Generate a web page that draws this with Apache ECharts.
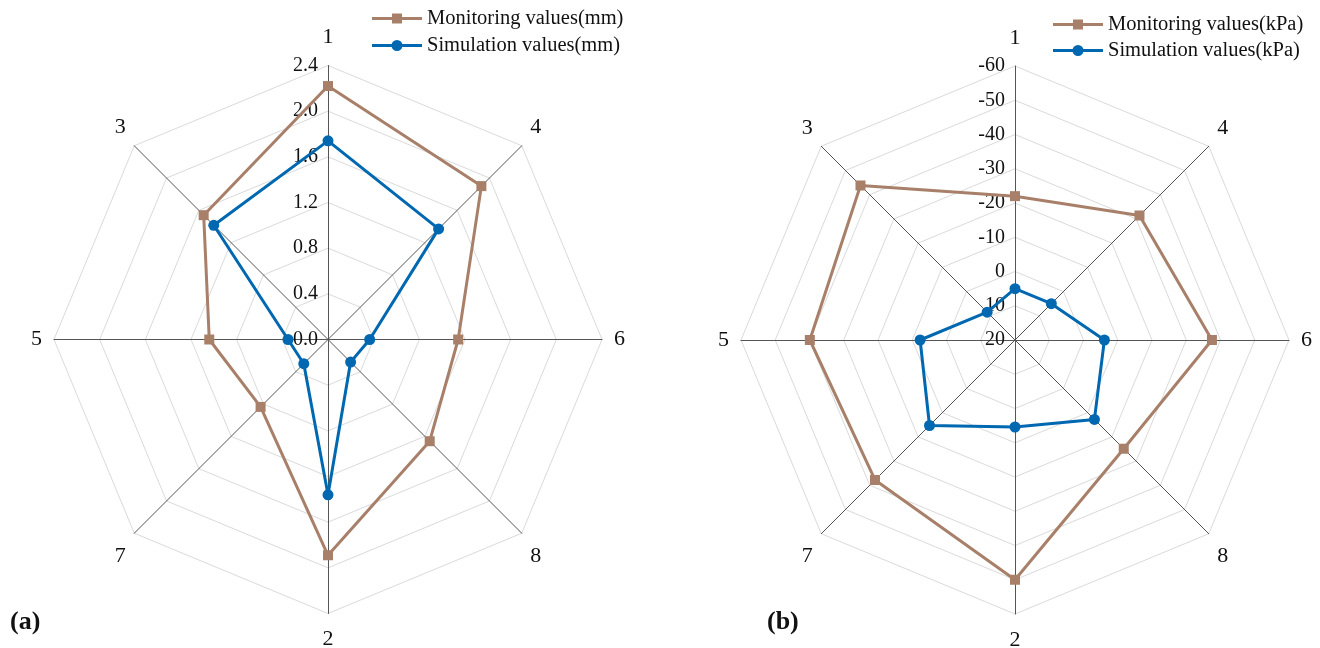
<!DOCTYPE html>
<html>
<head>
<meta charset="utf-8">
<script src="https://cdn.jsdelivr.net/npm/echarts@6/dist/echarts.min.js"></script>
<style>html,body{margin:0;padding:0;background:#fff}#c{width:1320px;height:648px}</style>
</head>
<body>
<div id="c"></div>
<script>
// Indicator order as ECharts lays them out (counterclockwise from top)
const categories = ['1', '3', '5', '7', '2', '8', '6', '4'];

// (a) displacement, mm
const monitoringMM = [2.22, 1.54, 1.04, 0.835, 1.89, 1.26, 1.14, 1.90];
const simulationMM = [1.74, 1.415, 0.35, 0.30, 1.36, 0.28, 0.365, 1.37];
const ticksA = ['0.0', '0.4', '0.8', '1.2', '1.6', '2.0', '2.4'];

// (b) pressure, kPa (axis runs from 20 at centre to -60 at rim)
const monitoringKPa = [-22, -43.8, -39.9, -37.8, -50, -24.9, -37.5, -31.4];
const simulationKPa = [5, 8.5, -7.7, -15.3, -5.4, -12.8, -6.1, 5];
const ticksB = ['20', '10', '0', '-10', '-20', '-30', '-40', '-50', '-60'];

const namesA = ['Monitoring values(mm)', 'Simulation values(mm)'];
const namesB = ['Monitoring values(kPa)', 'Simulation values(kPa)'];

const BROWN = '#A8806A';
const BLUE = '#0068B0';
const FONT = '"Liberation Serif", "Times New Roman", serif';

const B_TOP = 20; // value at the centre of chart (b)
const B_SPAN = 80;
const toRadB = v => B_TOP - v;

const iconSquare = 'path://M0,4L50,4L50,7L0,7Z M20,0.5L30,0.5L30,10.5L20,10.5Z M0,0L0.01,0L0.01,11L0,11Z';
const iconCircle = 'path://M0,4L50,4L50,7L0,7Z M25,0A5.5,5.5 0 1 1 25,11A5.5,5.5 0 1 1 25,0Z';

// rich styles nudging the vertex names outwards like the original
const nameBase = { fontFamily: FONT, fontSize: 22, color: '#111' };
const nameRich = {
  t: Object.assign({ padding: [0, 0, 5, 0] }, nameBase),
  b: Object.assign({ padding: [3, 0, 0, 0] }, nameBase),
  u: Object.assign({ padding: [0, 0, 20, 0] }, nameBase),
  d: Object.assign({ padding: [28, 0, 0, 0] }, nameBase),
  m: Object.assign({}, nameBase)
};
const nameKey = { '1': 't', '2': 'b', '3': 'u', '4': 'u', '7': 'd', '8': 'd', '5': 'm', '6': 'm' };

function indicators(max, labelFn) {
  return categories.map((c, i) => {
    const o = { name: c, min: 0, max: max };
    if (i === 0) o.axisLabel = { show: true, formatter: labelFn };
    return o;
  });
}

function radarCfg(center, max, split, labelFn) {
  return {
    center: center,
    radius: 274,
    startAngle: 90,
    shape: 'polygon',
    splitNumber: split,
    indicator: indicators(max, labelFn),
    axisName: {
      color: '#111', fontFamily: FONT, fontSize: 22,
      formatter: n => '{' + (nameKey[n] || 'm') + '|' + n + '}',
      rich: nameRich
    },
    nameGap: 12,
    axisLine: { lineStyle: { color: '#555', width: 1 } },
    splitLine: { lineStyle: { color: '#dadada', width: 1 } },
    splitArea: { show: false },
    axisTick: { show: false },
    axisLabel: {
      show: false, color: '#111', fontFamily: FONT, fontSize: 20,
      margin: 10
    }
  };
}

function legendCfg(names, left, top, gap) {
  return {
    orient: 'vertical', left: left, top: top,
    itemWidth: 50, itemHeight: 11, itemGap: gap,
    textStyle: { fontFamily: FONT, fontSize: 20.5, color: '#111' },
    data: [
      { name: names[0], icon: iconSquare, itemStyle: { color: BROWN } },
      { name: names[1], icon: iconCircle, itemStyle: { color: BLUE } }
    ]
  };
}

const titleStyle = { fontFamily: FONT, fontSize: 26, fontWeight: 'bold', color: '#111' };

const option = {
  backgroundColor: '#fff',
  animation: false,
  title: [
    { text: '(a)', left: 5, top: 604, textStyle: titleStyle },
    { text: '(b)', left: 762, top: 604, textStyle: titleStyle }
  ],
  legend: [legendCfg(namesA, 367, 3, 6), legendCfg(namesB, 1048, 9, 5)],
  radar: [
    radarCfg([328, 339.5], 2.4, 6, v => { const k = Math.round(v / 0.4); return ticksA[k] !== undefined ? ticksA[k] : ''; }),
    radarCfg([1015, 340], B_SPAN, 8, v => { const k = Math.round(v / 10); return ticksB[k] !== undefined ? ticksB[k] : ''; })
  ],
  series: [
    {
      type: 'radar', radarIndex: 0,
      data: [
        { name: namesA[0], value: monitoringMM, symbol: 'rect', symbolSize: 10,
          lineStyle: { color: BROWN, width: 3 }, itemStyle: { color: BROWN } },
        { name: namesA[1], value: simulationMM, symbol: 'circle', symbolSize: 11,
          lineStyle: { color: BLUE, width: 3 }, itemStyle: { color: BLUE } }
      ]
    },
    {
      type: 'radar', radarIndex: 1,
      data: [
        { name: namesB[0], value: monitoringKPa.map(toRadB), symbol: 'rect', symbolSize: 10,
          lineStyle: { color: BROWN, width: 3 }, itemStyle: { color: BROWN } },
        { name: namesB[1], value: simulationKPa.map(toRadB), symbol: 'circle', symbolSize: 11,
          lineStyle: { color: BLUE, width: 3 }, itemStyle: { color: BLUE } }
      ]
    }
  ]
};

const chart = echarts.init(document.getElementById('c'), null, { renderer: 'canvas' });
chart.setOption(option);
</script>
</body>
</html>
